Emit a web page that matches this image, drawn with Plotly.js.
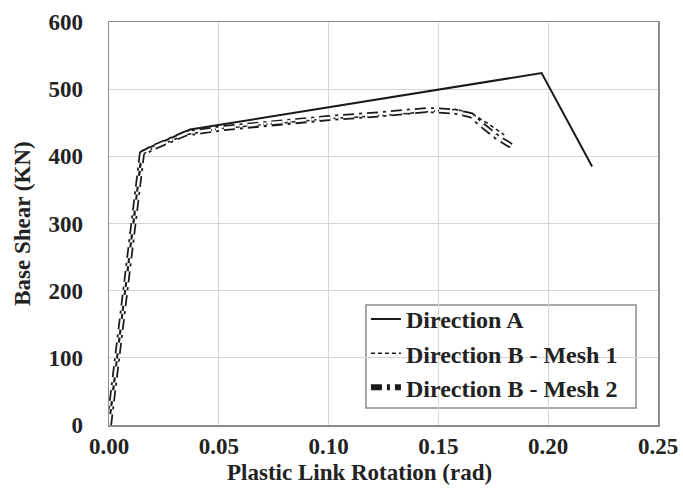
<!DOCTYPE html>
<html>
<head>
<meta charset="utf-8">
<script src="https://cdn.plot.ly/plotly-3.0.1.min.js"></script>
<style>html,body{margin:0;padding:0;background:#fff;}#chart{width:683px;height:501px;}</style>
</head>
<body>
<div id="chart"></div>
<script>
// Direction A
const dirA_x = [0, 0.015, 0.037, 0.197, 0.220];
const dirA_y = [0, 408, 440, 524, 385];
// Direction B - Mesh 1
const mesh1_x = [0, 0.005, 0.010, 0.015, 0.020, 0.035, 0.050, 0.075, 0.100, 0.125, 0.145, 0.158, 0.165, 0.172, 0.180];
const mesh1_y = [0, 133, 268, 402, 412, 432, 441, 449, 456, 461, 466, 470, 464, 450, 432];
// Direction B - Mesh 2
const mesh2_x = [0, 0.005, 0.010, 0.015, 0.020, 0.035, 0.052, 0.075, 0.100, 0.125, 0.145, 0.157, 0.165, 0.169, 0.177, 0.185];
const mesh2_y = [0, 135, 270, 404, 413, 434, 442, 450, 457, 463, 469, 467, 461, 449, 428, 412];

const xTicks = [0, 0.05, 0.10, 0.15, 0.20, 0.25];
const xTickLabels = ['0.00', '0.05', '0.10', '0.15', '0.20', '0.25'];
const yTicks = [0, 100, 200, 300, 400, 500, 600];

const serif = 'Liberation Serif, Times New Roman, serif';
const dash2 = '11px,5px,3px,5px';

const traces = [
  {x: dirA_x, y: dirA_y, mode: 'lines', name: '<b>Direction A</b>',
   line: {color: '#1a1a1a', width: 2}},
  {x: mesh1_x, y: mesh1_y, mode: 'lines', name: '<b>Direction B - Mesh 1</b>',
   line: {color: '#1a1a1a', width: 1.5, dash: '4px,3px'}},
  {x: mesh2_x, y: mesh2_y, mode: 'lines', name: '<b>Direction B - Mesh 2</b>',
   line: {color: '#1a1a1a', width: 6, dash: dash2}},
  {x: mesh2_x, y: mesh2_y, mode: 'lines', name: 'Mesh 2 inner', showlegend: false,
   line: {color: '#ffffff', width: 2.5, dash: dash2}, hoverinfo: 'skip'}
];

const layout = {
  width: 683, height: 501,
  margin: {l: 109, r: 25, t: 22, b: 76},
  paper_bgcolor: '#ffffff', plot_bgcolor: '#ffffff',
  showlegend: true,
  xaxis: {
    range: [0, 0.25], tickmode: 'array', tickvals: xTicks,
    ticktext: xTickLabels.map(t => '<b>' + t + '</b>'),
    showgrid: true, gridcolor: '#d6d6d6', gridwidth: 1,
    zeroline: false, showline: true, mirror: true, linecolor: '#8c8c8c', linewidth: 1.5,
    ticks: '', ticklabelstandoff: 0, tickfont: {family: serif, size: 23, color: '#222'}
  },
  yaxis: {
    range: [0, 600], tickmode: 'array', tickvals: yTicks,
    ticktext: yTicks.map(t => '<b>' + t + '</b>'),
    showgrid: true, gridcolor: '#d6d6d6', gridwidth: 1,
    zeroline: false, showline: true, mirror: true, linecolor: '#8c8c8c', linewidth: 1.5,
    ticks: '', ticklabelstandoff: 20, tickfont: {family: serif, size: 23, color: '#222'}
  },
  annotations: [
    {text: '<b>Plastic Link Rotation (rad)</b>', xref: 'paper', yref: 'paper',
     x: 0.457, y: -0.083, xanchor: 'center', yanchor: 'top', showarrow: false,
     font: {family: serif, size: 23, color: '#222'}},
    {text: '<b>Base Shear (KN)</b>', xref: 'paper', yref: 'paper',
     x: -0.158, y: 0.5, xanchor: 'center', yanchor: 'middle', textangle: -90, showarrow: false,
     font: {family: serif, size: 23, color: '#222'}}
  ],
  shapes: [
    {type: 'rect', xref: 'paper', yref: 'paper', layer: 'between',
     x0: 0.468, x1: 0.96, y0: 0.042, y1: 0.298,
     fillcolor: '#ffffff', line: {color: '#8c8c8c', width: 1.5}}
  ],
  legend: {
    x: 0.468, y: 0.318, xanchor: 'left', yanchor: 'top',
    bgcolor: 'rgba(0,0,0,0)', borderwidth: 0,
    font: {family: serif, size: 24, color: '#222'},
    traceorder: 'normal', itemwidth: 30
  }
};

Plotly.newPlot('chart', traces, layout, {displayModeBar: false, staticPlot: true});
</script>
</body>
</html>
